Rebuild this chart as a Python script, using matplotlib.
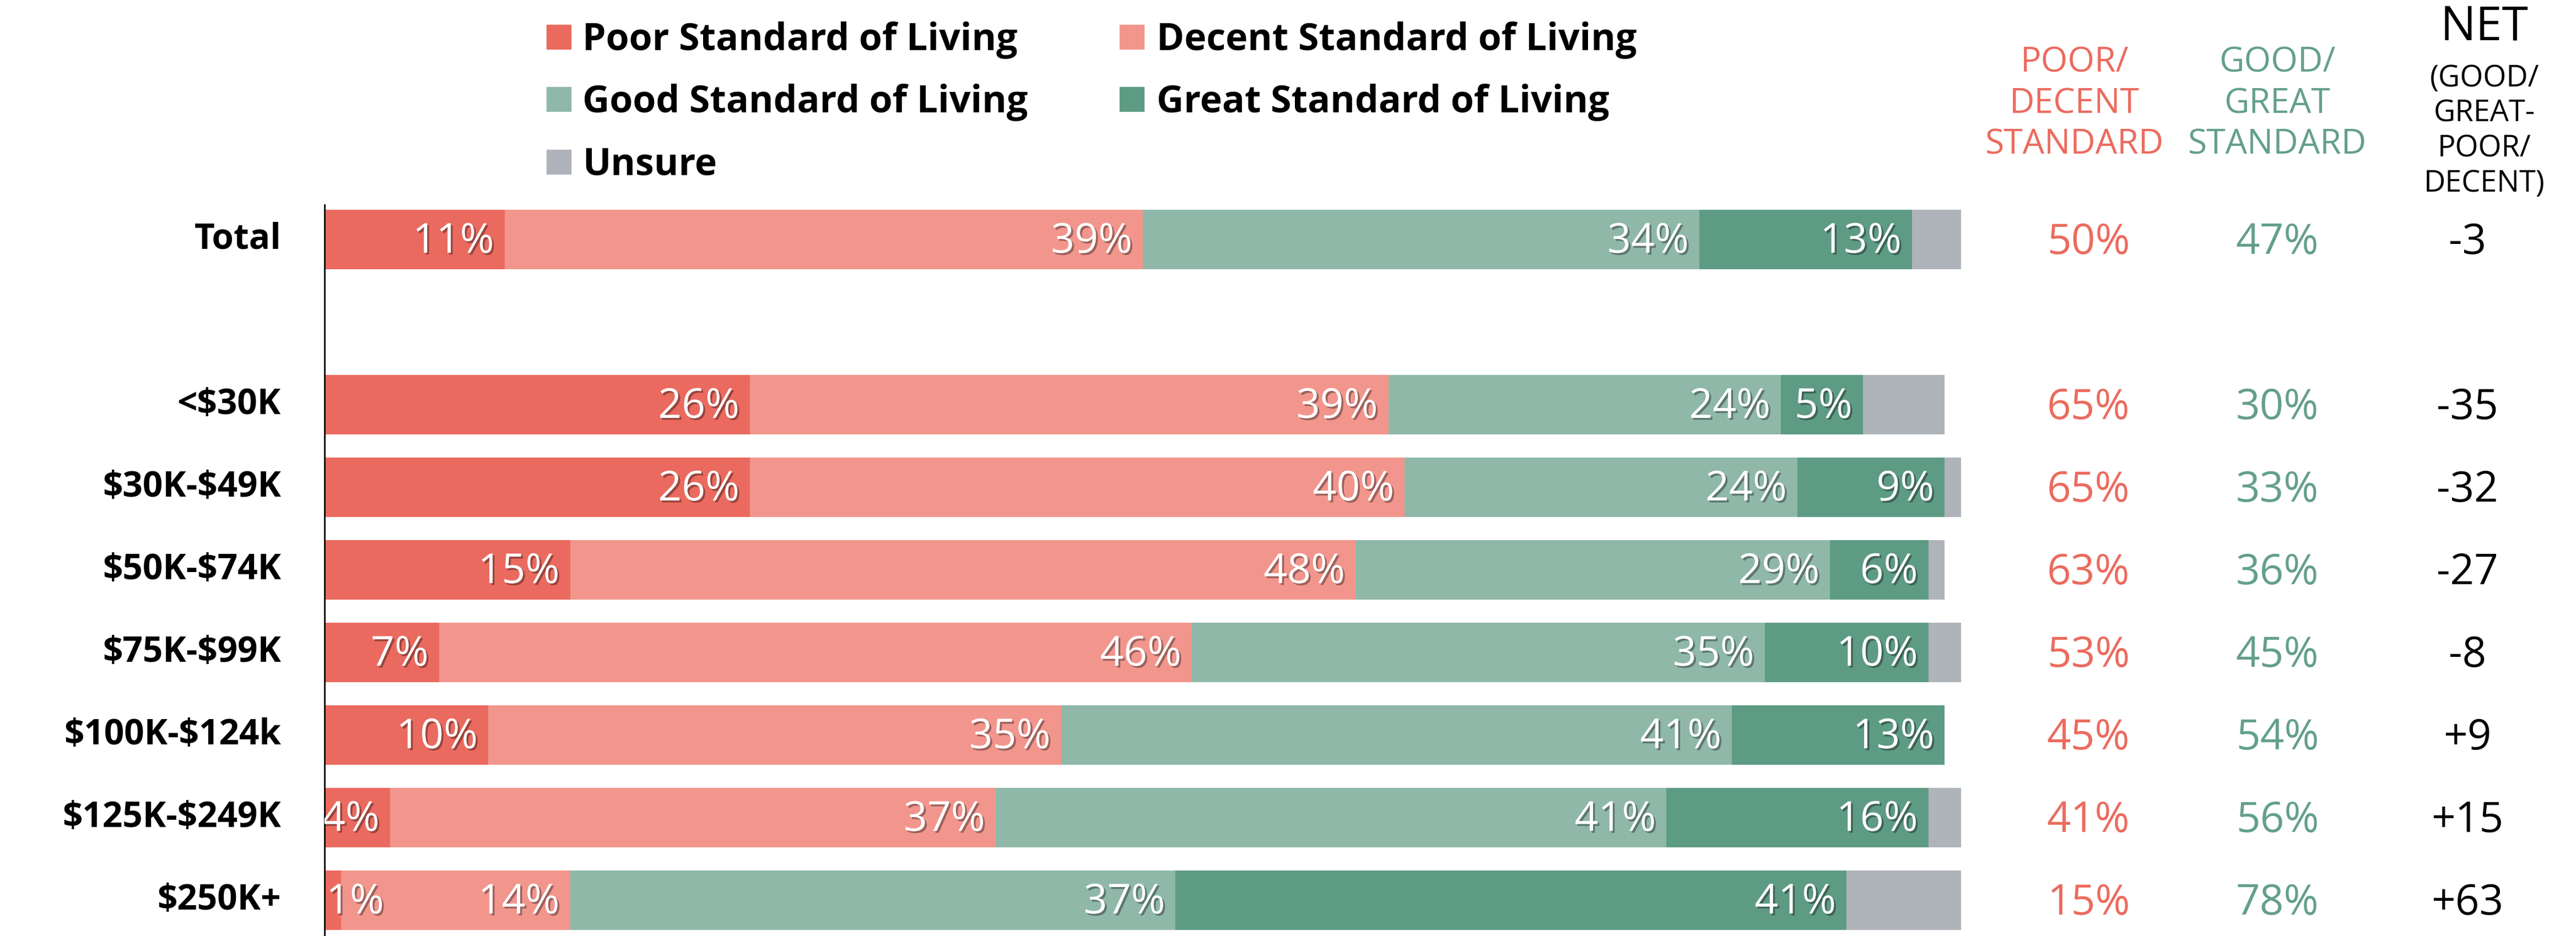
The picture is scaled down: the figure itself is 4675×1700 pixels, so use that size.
import matplotlib
matplotlib.use("Agg")
import matplotlib.pyplot as plt
import matplotlib.patheffects as pe
import matplotlib.transforms as mtransforms
from matplotlib.patches import Rectangle

# ---------------- data ----------------
categories = ["Total", "<$30K", "$30K-$49K", "$50K-$74K", "$75K-$99K",
              "$100K-$124k", "$125K-$249K", "$250K+"]
series_names = ["Poor Standard of Living", "Decent Standard of Living",
                "Good Standard of Living", "Great Standard of Living", "Unsure"]
poor = [11, 26, 26, 15, 7, 10, 4, 1]
decent = [39, 39, 40, 48, 46, 35, 37, 14]
good = [34, 24, 24, 29, 35, 41, 41, 37]
great = [13, 5, 9, 6, 10, 13, 16, 41]
unsure = [3, 5, 1, 1, 2, 0, 2, 7]
poor_decent = [50, 65, 65, 63, 53, 45, 41, 15]
good_great = [47, 30, 33, 36, 45, 54, 56, 78]
net = [-3, -35, -32, -27, -8, 9, 15, 63]
header_pd = "POOR/\nDECENT\nSTANDARD"
header_gg = "GOOD/\nGREAT\nSTANDARD"
header_net = "NET"
header_net_sub = "(GOOD/\nGREAT-\nPOOR/\nDECENT)"

# ---------------- style ----------------
colors = ["#EB6A5F", "#F2968D", "#8FB8A9", "#5E9B84", "#AFB3BA"]
red_txt = "#EC6B5E"
green_txt = "#64A089"

plt.rcParams["font.family"] = ["Open Sans", "DejaVu Sans"]

W, H, DPI = 4675, 1700, 100
fig = plt.figure(figsize=(W / DPI, H / DPI), dpi=DPI)


def fx(px):
    return px / W


def fy(py):
    return 1 - py / H


ax_left, ax_right, ax_top, ax_bottom = 589, 3559, 372, 1700
ax = fig.add_axes([fx(ax_left), fy(ax_bottom), fx(ax_right) - fx(ax_left),
                   (ax_bottom - ax_top) / H])
ax.set_xlim(0, 100)
ax.set_ylim(8.433, -0.42)

# positions: Total, then a blank slot, then income groups
ypos = [0] + list(range(2, 2 + len(categories) - 1))

all_series = [poor, decent, good, great, unsure]
bar_h = 0.715
lefts = [0.0] * len(categories)
shadow = [pe.SimplePatchShadow(offset=(2.5, -2.5), shadow_rgbFace="black", alpha=0.35),
          pe.Normal()]
for si, vals in enumerate(all_series):
    ax.barh(ypos, vals, left=lefts, height=bar_h, color=colors[si],
            edgecolor="none")
    if si < 4:
        for i, v in enumerate(vals):
            if v <= 0:
                continue
            end = lefts[i] + v
            if v >= 3:
                ax.text(end - 0.64, ypos[i] + 0.03, f"{v}%", ha="right", va="center",
                        fontsize=54, color="white", fontweight="normal",
                        path_effects=shadow, clip_on=True)
            else:
                ax.text(lefts[i] + 0.1, ypos[i] + 0.03, f"{v}%", ha="left",
                        va="center", fontsize=54, color="white",
                        fontweight="normal", path_effects=shadow, clip_on=True)
    lefts = [l + v for l, v in zip(lefts, vals)]

for s in ["top", "right", "bottom"]:
    ax.spines[s].set_visible(False)
ax.spines["left"].set_linewidth(2)
ax.spines["left"].set_color("black")
ax.set_xticks([])
ax.set_yticks([])

trans = mtransforms.blended_transform_factory(fig.transFigure, ax.transData)

# category labels
for i, c in enumerate(categories):
    ax.text(fx(510), ypos[i], c, transform=trans, ha="right", va="center",
            fontsize=46, fontweight="bold", color="black", clip_on=False,
            parse_math=False)

# right-hand columns
for i in range(len(categories)):
    ax.text(fx(3790), ypos[i] + 0.04, f"{poor_decent[i]}%", transform=trans,
            ha="center", va="center", fontsize=55, color=red_txt, clip_on=False)
    ax.text(fx(4133), ypos[i] + 0.04, f"{good_great[i]}%", transform=trans,
            ha="center", va="center", fontsize=55, color=green_txt, clip_on=False)
    ax.text(fx(4478), ypos[i] + 0.04, f"{net[i]:+d}" if net[i] > 0 else f"{net[i]}",
            transform=trans, ha="center", va="center", fontsize=55,
            color="black", clip_on=False)

# headers
fig.text(fx(3765), fy(189), header_pd, ha="center", va="center",
         multialignment="center", fontsize=45, color=red_txt, linespacing=1.25)
fig.text(fx(4133), fy(189), header_gg, ha="center", va="center",
         multialignment="center", fontsize=45, color=green_txt, linespacing=1.25)
fig.text(fx(4509), fy(50), header_net, ha="center", va="center",
         fontsize=62, color="black")
fig.text(fx(4509), fy(238), header_net_sub, ha="center", va="center",
         multialignment="center", fontsize=39, color="black", linespacing=1.2)

# legend (manual)
leg_layout = [(992, 1057, 67, 91), (2032, 2099, 67, 91),
              (992, 1057, 180, 204), (2032, 2099, 180, 204),
              (992, 1057, 294, 317)]
for (mx, tx, cy, base), name, col in zip(leg_layout, series_names, colors):
    fig.patches.append(Rectangle((fx(mx), fy(cy + 22)), 44 / W, 44 / H,
                                 transform=fig.transFigure, color=col))
    fig.text(fx(tx), fy(base), name, ha="left", va="baseline", fontsize=49,
             fontweight="bold", color="black")

fig.savefig("out.png", dpi=DPI, facecolor="white")
